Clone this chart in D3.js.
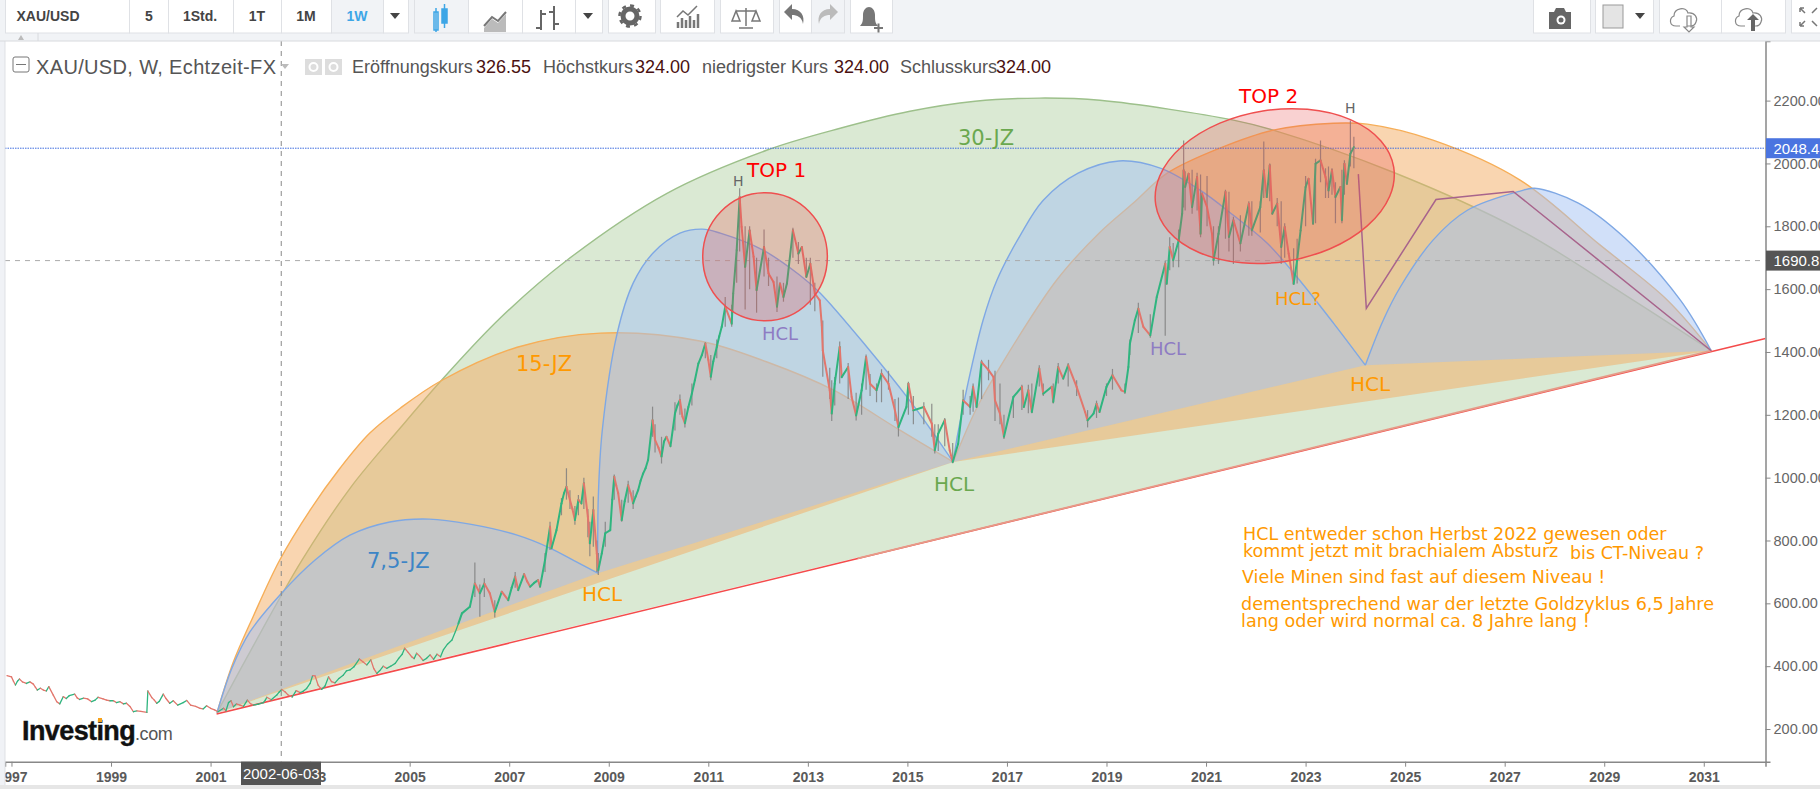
<!DOCTYPE html>
<html>
<head>
<meta charset="utf-8">
<title>XAU/USD</title>
<script src="https://cdn.jsdelivr.net/npm/d3@7"></script>
<style>
  html, body { margin: 0; padding: 0; background: #fff; overflow: hidden; }
  svg { display: block; }
  text { font-family: "Liberation Sans", Arial, sans-serif; }
  .note { font-family: "DejaVu Sans", Verdana, sans-serif; }
  .axis path, .axis line { stroke: #888; }
  .axis path { stroke-width: 1.5; }
  .axis text { fill: #666; font-size: 14.5px; }
  .axis.x text { font-weight: bold; fill: #5a5a5a; font-size: 14px; }
</style>
</head>
<body>
<div id="chart"></div>
<script>
// Values: [year, price]
var yearTicks  = d3.range(1997, 2032, 2);
var priceTicks = [200, 400, 600, 800, 1000, 1200, 1400, 1600, 1800, 2000, 2200];

var lastPrice  = 2048.47;
var crossPrice = 1690.82;
var crossYear  = 2002.42;

var arc30 = [[2001.13,252],[2001.79,445],[2002.84,738],[2003.82,970],[2004.81,1158],[2005.64,1310],[2006.82,1508],[2008.16,1692],
  [2010.17,1905],[2012.17,2042],[2013.65,2112],[2015.05,2166],[2016.36,2198],[2017.65,2208],[2018.87,2201],[2021.55,2138],[2022.35,2106],
  [2024.76,1972],[2027.31,1788],[2029.58,1565],[2031.15,1404]];

var arc15a = [[2001.13,252],[2001.45,410],[2001.85,556],[2002.39,738],[2003.0,897],[2003.6,1030],[2004.2,1142],[2004.81,1221],[2005.65,1310],
  [2007.16,1415],[2008.83,1460],[2010.83,1435],[2012.18,1368],[2013.51,1279],[2014.85,1151],[2015.92,1050]];

var arc15b = [[2015.92,1050],[2016.4,1224],[2016.86,1352],[2018.0,1629],[2018.87,1781],[2019.54,1874],[2020.22,1969],[2021.28,2049],
  [2022.35,2106],[2023.56,2128],[2024.24,2125],[2025.56,2074],[2027.31,1947],[2028.92,1740],[2030.27,1565],[2031.15,1404]];

var arc75a = [[2001.13,252],[2001.43,394],[2001.79,509],[2002.43,633],[2003.1,738],[2003.8,817],[2004.6,859],[2005.39,868],
  [2006.21,852],[2007.16,817],[2007.82,776],[2008.36,731],[2008.78,696]];

var arc75b = [[2008.78,696],[2008.79,938],[2008.87,1151],[2009.17,1460],[2009.49,1619],[2009.89,1715],[2010.43,1778],[2010.88,1791],
  [2011.24,1778],[2012.1,1724],[2012.84,1644],[2013.25,1587],[2014.19,1415],[2015.01,1253],[2015.52,1142],[2015.92,1050]];

var arc75c = [[2015.92,1050],[2016.0,1129],[2016.2,1288],[2016.52,1501],[2016.8,1629],[2017.27,1772],[2017.73,1883],[2018.43,1969],
  [2019.25,2008],[2020.08,1985],[2020.88,1915],[2021.55,1835],[2022.23,1746],[2022.83,1638],[2023.56,1492],[2024.2,1358]];

var arc75d = [[2024.2,1358],[2024.56,1501],[2024.9,1606],[2025.56,1756],[2026.25,1851],[2027.31,1912],[2027.6,1921],[2028.48,1874],
  [2029.42,1762],[2030.53,1565],[2031.15,1404]];

var trendLine  = [[2001.12,248],[2032.24,1443]];
var trendFaded = [[2014,743],[2031.15,1404]];
var forecast   = [[2024.06,1966],[2024.22,1539],[2025.62,1885],[2027.17,1911],[2031.15,1404]];

// weekly closes, sampled [year, close]
var closesMain = [[1996.91,370],[1997.0,366],[1997.08,340],[1997.16,359],[1997.3,345],[1997.44,343],[1997.52,324],[1997.64,324],[1997.75,335],
  [1997.91,287],[1997.97,280],[1998.04,303],[1998.27,311],[1998.37,294],[1998.61,287],[1998.74,301],[1998.98,290],[1999.18,287],
  [1999.31,282],[1999.45,255],[1999.72,253],[1999.74,321],[1999.92,282],[2000.05,311],[2000.18,282],[2000.45,284],[2000.79,266],
  [2000.92,274],[2001.15,255],[2001.26,266],[2001.36,284],[2001.46,271],[2001.59,276],[2001.74,292],[2001.86,276],[2002.06,284],
  [2002.13,301],[2002.33,308],[2002.43,326],[2002.56,308],[2002.8,316],[2002.93,329],[2003.05,370],[2003.1,369],[2003.23,326],
  [2003.37,366],[2003.5,347],[2003.67,372],[2003.8,388],[2003.99,423],[2004.14,404],[2004.22,420],[2004.34,377],[2004.54,393],
  [2004.71,409],[2004.9,457],[2005.04,430],[2005.14,441],[2005.34,425],[2005.48,422],[2005.68,453],[2005.85,483],[2005.98,536],
  [2006.05,568],[2006.21,589],[2006.31,663],[2006.41,632],[2006.5,663],[2006.61,632],[2006.71,573],[2006.85,637],[2006.98,610],
  [2007.12,685],[2007.18,642],[2007.3,693],[2007.42,653],[2007.58,674],[2007.62,653],[2007.72,738],[2007.82,844],[2007.85,775],
  [2007.95,833],[2008.05,918],[2008.15,971],[2008.22,929],[2008.32,865],[2008.39,929],[2008.45,918],[2008.5,982],[2008.58,876],
  [2008.62,791],[2008.69,897],[2008.76,759],[2008.79,706],[2008.86,759],[2008.93,823],[2009.03,833],[2009.11,1003],[2009.19,950],
  [2009.26,865],[2009.39,976],[2009.49,918],[2009.59,960],[2009.69,1013],[2009.79,1056],[2009.88,1183],[2009.93,1120],[2010.06,1067],
  [2010.16,1130],[2010.24,1100],[2010.33,1204],[2010.43,1247],[2010.53,1173],[2010.67,1268],[2010.8,1363],[2010.94,1427],[2011.05,1321],
  [2011.17,1416],[2011.27,1480],[2011.34,1544],[2011.47,1490],[2011.5,1586],[2011.57,1724],[2011.63,1893],[2011.67,1798],[2011.74,1671],
  [2011.83,1787],[2011.91,1703],[2011.97,1597],[2012.12,1734],[2012.21,1650],[2012.31,1623],[2012.38,1544],[2012.44,1618],[2012.51,1575],
  [2012.58,1618],[2012.7,1787],[2012.81,1713],[2012.88,1734],[2012.97,1639],[2013.05,1681],[2013.14,1586],[2013.24,1564],[2013.28,1485],
  [2013.3,1405],[2013.44,1278],[2013.48,1204],[2013.54,1299],[2013.64,1416],[2013.68,1320],[2013.81,1352],[2013.88,1257],[2013.97,1198],
  [2014.08,1278],[2014.17,1384],[2014.25,1299],[2014.38,1278],[2014.48,1331],[2014.62,1299],[2014.75,1214],[2014.82,1161],[2014.98,1225],
  [2015.02,1299],[2015.12,1214],[2015.33,1225],[2015.49,1172],[2015.55,1087],[2015.62,1140],[2015.75,1183],[2015.85,1087],[2015.91,1050],
  [2016.02,1108],[2016.12,1246],[2016.26,1225],[2016.32,1289],[2016.39,1225],[2016.49,1368],[2016.63,1342],[2016.73,1320],[2016.76,1246],
  [2016.86,1204],[2016.94,1130],[2017.13,1257],[2017.3,1289],[2017.34,1225],[2017.43,1278],[2017.5,1209],[2017.65,1347],[2017.73,1267],
  [2017.9,1289],[2017.93,1241],[2018.03,1352],[2018.13,1315],[2018.23,1358],[2018.4,1289],[2018.57,1209],[2018.62,1182],[2018.74,1204],
  [2018.8,1235],[2018.86,1209],[2019.0,1289],[2019.12,1326],[2019.3,1278],[2019.37,1273],[2019.44,1352],[2019.47,1426],[2019.57,1501],
  [2019.64,1538],[2019.74,1480],[2019.88,1453],[2020.01,1575],[2020.18,1681],[2020.21,1617],[2020.27,1734],[2020.34,1692],[2020.45,1755],
  [2020.52,1840],[2020.55,1978],[2020.58,1925],[2020.65,1967],[2020.72,1861],[2020.82,1957],[2020.89,1776],[2020.92,1904],[2021.02,1861],
  [2021.12,1776],[2021.15,1692],[2021.25,1776],[2021.39,1909],[2021.46,1766],[2021.55,1819],[2021.69,1745],[2021.86,1872],[2021.92,1787],
  [2022.09,1861],[2022.16,1978],[2022.22,1893],[2022.28,1994],[2022.33,1840],[2022.43,1872],[2022.51,1734],[2022.58,1798],[2022.66,1713],
  [2022.76,1617],[2022.83,1692],[2022.9,1787],[2023.0,1925],[2023.06,1951],[2023.15,1808],[2023.2,1999],[2023.3,2010],[2023.4,1957],
  [2023.46,1914],[2023.53,1978],[2023.6,1893],[2023.7,1925],[2023.73,1819],[2023.78,1999],[2023.83,1935],[2023.9,2031],[2023.97,2052]];

// smaller swings between the main ones
var closesFine = [[1997.04,352],[1997.12,352],[1997.22,350],[1997.37,350],[1997.48,333],[1997.58,330],[1997.7,321],[1997.84,308],[1998.1,297],
  [1998.16,306],[1998.32,299],[1998.45,298],[1998.53,296],[1998.68,292],[1998.84,296],[1998.91,292],[1999.05,290],[1999.11,284],[1999.25,280],
  [1999.38,272],[1999.52,258],[1999.6,256],[1999.82,300],[1999.87,292],[1999.97,288],[2000.1,298],[2000.25,290],[2000.34,276],[2000.52,291],
  [2000.6,276],[2000.7,272],[2000.85,264],[2001.0,266],[2001.08,261],[2001.31,258],[2001.41,290],[2001.52,280],[2001.66,272],[2001.8,281],
  [2001.96,279],[2002.1,292],[2002.22,293],[2002.38,318],[2002.5,318],[2002.64,302],[2002.72,322],[2002.86,320],[2003.0,345],[2003.16,340],
  [2003.3,337],[2003.43,351],[2003.58,361],[2003.73,385],[2003.88,398],[2004.06,414],[2004.28,392],[2004.4,386],[2004.47,400],[2004.62,400],
  [2004.78,425],[2004.85,438],[2004.97,444],[2005.09,424],[2005.2,432],[2005.27,418],[2005.41,436],[2005.55,438],[2005.62,430],[2005.76,470],
  [2005.92,510],[2007.05,650],[2007.36,670],[2007.5,665],[2008.1,950],[2008.27,900],[2009.07,930],[2009.15,975],[2009.32,925],[2009.44,950],
  [2009.54,940],[2009.64,990],[2009.74,1030],[2010.0,1095],[2010.11,1115],[2010.38,1230],[2010.48,1195],[2010.6,1225],[2010.73,1310],
  [2010.87,1390],[2011.0,1375],[2011.1,1370],[2011.22,1450]];

// long wicks that stick out of the closes: [year, high, low]
var wicksMain = [[2006.31,730,620],[2006.41,660,557],[2006.5,680,620],[2006.71,610,555],[2007.12,700,650],[2007.72,760,700],[2007.82,860,770],
  [2008.05,935,880],[2008.15,1030,930],[2008.22,960,900],[2008.32,910,850],[2008.39,945,880],[2008.5,1000,900],[2008.58,900,810],
  [2008.62,860,750],[2008.69,940,780],[2008.76,800,700],[2008.79,760,690],[2008.93,860,780],[2009.11,1010,930],[2009.26,930,860],
  [2009.39,990,920],[2009.49,960,900],[2009.88,1226,1130],[2009.93,1170,1080],[2010.06,1130,1045],[2010.33,1240,1150],[2010.43,1265,1200],
  [2010.53,1220,1160],[2010.67,1300,1230],[2010.94,1430,1380],[2011.05,1390,1310],[2011.17,1440,1380],[2011.34,1575,1480],[2011.47,1550,1480],
  [2011.57,1740,1620],[2011.63,1921,1720],[2011.74,1800,1535],[2011.83,1800,1600],[2011.97,1700,1525],[2012.12,1790,1640],[2012.21,1700,1610],
  [2012.38,1640,1527],[2012.51,1620,1560],[2012.7,1795,1700],[2012.81,1750,1680],[2012.97,1700,1640],[2013.05,1700,1550],[2013.14,1620,1530],
  [2013.3,1500,1321],[2013.44,1350,1250],[2013.48,1310,1180],[2013.64,1433,1300],[2013.97,1270,1182],[2014.17,1392,1280],[2014.48,1345,1240],
  [2014.82,1255,1131],[2015.02,1305,1200],[2015.49,1235,1130],[2015.55,1170,1077],[2015.75,1190,1100],[2015.91,1110,1046],[2016.49,1375,1250],
  [2016.76,1340,1180],[2016.94,1200,1123],[2017.5,1300,1205],[2017.93,1300,1236],[2018.62,1215,1160],[2019.47,1440,1390],[2019.64,1557,1460],
  [2019.88,1520,1445],[2020.18,1690,1452],[2020.27,1765,1660],[2020.55,2073,1860],[2020.58,1975,1850],[2020.89,1965,1765],[2021.15,1800,1675],
  [2021.39,1916,1760],[2021.55,1830,1680],[2021.92,1880,1770],[2022.16,2070,1890],[2022.28,2000,1880],[2022.51,1880,1680],[2022.76,1730,1615],
  [2022.83,1760,1618],[2023.3,2073,1940],[2023.4,1985,1890],[2023.73,1980,1810],[2023.9,2137,1990],[2023.97,2085,1985]];

var wicksFine = [[2013.54,1320,1230],[2013.81,1365,1250],[2014.08,1300,1200],[2014.25,1330,1260],[2014.38,1300,1240],[2014.62,1340,1280],
  [2014.75,1250,1180],[2015.12,1260,1170],[2015.33,1240,1170],[2015.62,1170,1085],[2016.12,1280,1200],[2016.26,1260,1200],[2016.32,1300,1210],
  [2016.63,1375,1310],[2016.86,1300,1170],[2017.13,1260,1190],[2017.3,1296,1215],[2017.43,1296,1205],[2017.65,1358,1290],[2017.73,1300,1260],
  [2018.03,1365,1300],[2018.23,1365,1290],[2018.4,1310,1260],[2018.8,1245,1190],[2019.0,1300,1260],[2019.12,1346,1280],[2019.37,1300,1266],
  [2020.34,1747,1670],[2020.45,1790,1670],[2020.72,1980,1840],[2020.82,1970,1850],[2021.02,1960,1800],[2021.25,1800,1680],[2021.46,1910,1720],
  [2021.69,1835,1720],[2021.86,1880,1770],[2022.09,1880,1780],[2022.43,1890,1800],[2022.58,1810,1700],[2023.0,1960,1800],[2023.2,2015,1810],
  [2023.46,1990,1890],[2023.53,1985,1900],[2023.6,1940,1810],[2023.78,2010,1900]];

var top1Ellipse = {year: 2012.14, price: 1703, rYears: 1.252, rPrice: 204};
var top2Ellipse = {year: 2022.38, price: 1928, rYears: 2.42, rPrice: 242};

var legendItems = [
  ['Eröffnungskurs', '326.55', 352, 476],
  ['Höchstkurs', '324.00', 543, 635],
  ['niedrigster Kurs', '324.00', 702, 834],
  ['Schlusskurs', '324.00', 900, 996]
];

var closes = closesMain.concat(closesFine).sort(function(a, b) { return a[0] - b[0]; });
var wicks  = wicksMain.concat(wicksFine);

var width = 1820, height = 789;
var plot = {left: 5, right: 1765.5, top: 41, bottom: 761.7};

var svg = d3.select('#chart').append('svg')
  .attr('width', width)
  .attr('height', height);

var x = d3.scaleLinear().domain([1996.87, 2032.24]).range([plot.left, plot.right]);
var y = d3.scaleLinear().domain([96, 2389.7]).range([plot.bottom, plot.top]);

var defs = svg.append('defs');
defs.append('clipPath').attr('id', 'plot-clip').append('rect')
  .attr('x', plot.left).attr('y', plot.top)
  .attr('width', plot.right - plot.left).attr('height', plot.bottom - plot.top);

// Background and axes
svg.append('rect').attr('width', width).attr('height', height).attr('fill', '#fff');

var line = d3.line().x(function(d) { return x(d[0]); }).y(function(d) { return y(d[1]); });
var arcLine = d3.line().x(function(d) { return x(d[0]); }).y(function(d) { return y(d[1]); }).curve(d3.curveCatmullRom.alpha(0.5));

var container = svg.append('g').attr('clip-path', 'url(#plot-clip)');

var green  = {fill: 'rgb(106,168,79)', a: 0.25, stroke: '#9dc08b'};
var orange = {fill: 'rgb(243,171,97)', a: 0.5, stroke: '#f6ae58'};
var blue   = {fill: 'rgb(164,193,243)', a: 0.5, stroke: '#7fa8e4'};

var drawArc = function(points, style) {
  container.append('path')
    .attr('d', arcLine(points) + 'Z')
    .attr('fill', style.fill)
    .attr('fill-opacity', style.a)
    .attr('stroke', 'none');
  container.append('path')
    .attr('d', arcLine(points))
    .attr('fill', 'none')
    .attr('stroke', style.stroke)
    .attr('stroke-width', 1.4);
};

drawArc(arc30, green);
drawArc(arc15a, orange);
drawArc(arc15b, orange);
drawArc(arc75a, blue);
drawArc(arc75b, blue);
drawArc(arc75c, blue);
drawArc(arc75d, blue);

container.append('path').attr('d', line(trendLine)).attr('fill', 'none').attr('stroke', '#f44b4b').attr('stroke-width', 1.6);
container.append('path').attr('d', line(trendFaded)).attr('fill', 'none').attr('stroke', '#e59b88').attr('stroke-width', 1.8);

// Guide lines
container.append('line')
  .attr('x1', plot.left).attr('x2', plot.right)
  .attr('y1', y(lastPrice)).attr('y2', y(lastPrice))
  .attr('stroke', '#3f6ee0').attr('stroke-width', 1).attr('stroke-dasharray', '1.5,1');
container.append('line')
  .attr('x1', plot.left).attr('x2', plot.right)
  .attr('y1', y(crossPrice)).attr('y2', y(crossPrice))
  .attr('stroke', '#aaa').attr('stroke-width', 1).attr('stroke-dasharray', '5,5');
container.append('line')
  .attr('x1', x(crossYear)).attr('x2', x(crossYear))
  .attr('y1', plot.top).attr('y2', plot.bottom)
  .attr('stroke', '#888').attr('stroke-width', 1).attr('stroke-dasharray', '5,5');

// Price
container.selectAll('.wick')
  .data(wicks)
.enter().append('line')
  .attr('class', 'wick')
  .attr('x1', function(d) { return x(d[0]); })
  .attr('x2', function(d) { return x(d[0]); })
  .attr('y1', function(d) { return y(d[1]); })
  .attr('y2', function(d) { return y(d[2]); })
  .attr('stroke', '#7f7f7f')
  .attr('stroke-opacity', 0.85)
  .attr('stroke-width', 1.2);

container.selectAll('.candle')
  .data(closes.slice(1))
.enter().append('line')
  .attr('class', 'candle')
  .attr('x1', function(d, i) { return x(closes[i][0]); })
  .attr('y1', function(d, i) { return y(closes[i][1]); })
  .attr('x2', function(d) { return x(d[0]); })
  .attr('y2', function(d) { return y(d[1]); })
  .attr('stroke', function(d, i) { return d[1] >= closes[i][1] ? '#2fb57f' : '#e2766c'; })
  .attr('stroke-width', function(d) { return d[0] < 2006 ? 1.3 : 2; })
  .attr('stroke-linecap', 'round');

container.append('path').attr('d', line(forecast)).attr('fill', 'none').attr('stroke', '#a8648c').attr('stroke-width', 1.5);

// Red circles around the tops
var drawEllipse = function(e, angle) {
  var cx = x(e.year), cy = y(e.price);
  container.append('ellipse')
    .attr('cx', cx).attr('cy', cy)
    .attr('rx', x(e.year + e.rYears) - cx)
    .attr('ry', cy - y(e.price + e.rPrice))
    .attr('transform', 'rotate(' + angle + ' ' + cx + ' ' + cy + ')')
    .attr('fill', 'rgb(230,70,70)').attr('fill-opacity', 0.25)
    .attr('stroke', '#ef4f4f').attr('stroke-width', 1.5);
};
drawEllipse(top1Ellipse, 0);
drawEllipse(top2Ellipse, -9);

svg.append('g')
  .attr('class', 'axis y')
  .attr('transform', 'translate(' + plot.right + ',0)')
  .call(d3.axisRight(y).tickValues(priceTicks).tickSize(5).tickPadding(3).tickFormat(d3.format('.2f')));

svg.append('g')
  .attr('class', 'axis x')
  .attr('transform', 'translate(0,' + plot.bottom + ')')
  .call(d3.axisBottom(x).tickValues(yearTicks).tickSize(5).tickPadding(5).tickFormat(d3.format('d')));

// Annotations
var note = function(str, px, py, size, color) {
  svg.append('text').attr('class', 'note')
    .attr('x', px).attr('y', py)
    .attr('font-size', size).attr('fill', color)
    .text(str);
};
var OR = '#ff9900', PU = '#8e7cc3', GR = '#6aa84f', BL = '#3d85c6', RE = '#ff0000';
note('7,5-JZ', 367, 568, 21, BL);
note('15-JZ', 516, 371, 21, OR);
note('30-JZ', 958, 145, 21, GR);
note('TOP 1', 747, 177, 20, RE);
note('TOP 2', 1239, 103, 20, RE);
note('H', 733, 186, 14, '#666');
note('H', 1345, 113, 14, '#666');
note('HCL', 762, 340, 18, PU);
note('HCL', 1150, 355, 18, PU);
note('HCL', 582, 601, 20, OR);
note('HCL', 934, 491, 20, GR);
note('HCL?', 1275, 305, 18, OR);
note('HCL', 1350, 391, 20, OR);
note('HCL entweder schon Herbst 2022 gewesen oder', 1243, 540, 17.5, OR);
note('kommt jetzt mit brachialem Absturz', 1243, 557, 17.5, OR);
note('bis CT-Niveau ?', 1570, 558.5, 17.5, OR);
note('Viele Minen sind fast auf diesem Niveau !', 1242, 583, 17.5, OR);
note('dementsprechend war der letzte Goldzyklus 6,5 Jahre', 1241, 610, 17.6, OR);
note('lang oder wird normal ca. 8 Jahre lang !', 1241, 627, 17.6, OR);

// Logo
svg.append('text').attr('x', 22).attr('y', 740).attr('font-size', 27).attr('font-weight', 'bold')
  .attr('fill', '#111').attr('stroke', '#111').attr('stroke-width', 0.4).attr('letter-spacing', '-0.6').text('Investing');
svg.append('text').attr('x', 135).attr('y', 740).attr('font-size', 18).attr('fill', '#555').attr('letter-spacing', '-0.4').text('.com');
svg.append('rect').attr('x', 98).attr('y', 718).attr('width', 4).attr('height', 4).attr('fill', '#f7a11a');

// Legend
svg.append('rect').attr('x', 13).attr('y', 57).attr('width', 16).attr('height', 15).attr('rx', 2)
  .attr('fill', '#fff').attr('stroke', '#777');
svg.append('line').attr('x1', 16).attr('x2', 26).attr('y1', 64.5).attr('y2', 64.5).attr('stroke', '#777');
svg.append('text').attr('x', 36).attr('y', 74).attr('font-size', 20).attr('fill', '#555')
  .attr('letter-spacing', '0.35').text('XAU/USD, W, Echtzeit-FX');
svg.append('path').attr('d', 'M281,64h8l-4,5z').attr('fill', '#bbb');
[305, 325].forEach(function(px) {
  svg.append('rect').attr('x', px).attr('y', 59).attr('width', 17).attr('height', 16).attr('fill', '#ddd');
  svg.append('circle').attr('cx', px + 8.5).attr('cy', 67).attr('r', 4).attr('fill', 'none').attr('stroke', '#fff').attr('stroke-width', 2);
});
legendItems.forEach(function(d) {
  svg.append('text').attr('x', d[2]).attr('y', 73).attr('font-size', 18).attr('fill', '#555').text(d[0]);
  svg.append('text').attr('x', d[3]).attr('y', 73).attr('font-size', 18).attr('fill', '#4a1010').text(d[1]);
});

// Price boxes on the right axis
var priceBox = function(value, color) {
  var cy = y(value);
  svg.append('rect').attr('x', plot.right + 0.5).attr('y', cy - 10).attr('width', width - plot.right).attr('height', 20).attr('fill', color);
  svg.append('text').attr('x', plot.right + 8).attr('y', cy + 5.5).attr('font-size', 15).attr('fill', '#fff').text(value.toFixed(2));
};
priceBox(lastPrice, '#4a74e0');
priceBox(crossPrice, '#555');

// Crosshair date box
svg.append('rect').attr('x', 241).attr('y', plot.bottom).attr('width', 80).attr('height', 24).attr('fill', '#555');
svg.append('text').attr('x', x(crossYear)).attr('y', 779).attr('text-anchor', 'middle').attr('font-size', 15).attr('fill', '#fff').text('2002-06-03');

// Frame around the plot
svg.append('rect').attr('x', 0).attr('y', 41).attr('width', 5).attr('height', height).attr('fill', '#f0f2f6');
svg.append('line').attr('x1', 5).attr('x2', 5).attr('y1', 41).attr('y2', 785).attr('stroke', '#dfe1e5');
svg.append('rect').attr('x', 0).attr('y', 785).attr('width', width).attr('height', 4).attr('fill', '#e6e6e6');

// Toolbar
var toolbar = svg.append('g');
toolbar.append('rect').attr('width', width).attr('height', 41).attr('fill', '#f1f3f6');
toolbar.append('line').attr('x1', 0).attr('x2', width).attr('y1', 41).attr('y2', 41).attr('stroke', '#d8dade');

var button = function(x0, x1, active) {
  toolbar.append('rect').attr('x', x0 + 0.5).attr('y', -1).attr('width', x1 - x0).attr('height', 34)
    .attr('fill', active ? '#f1f3f6' : '#fff').attr('stroke', '#dfe1e5');
};
var label = function(str, cx, color) {
  toolbar.append('text').attr('x', cx).attr('y', 21).attr('text-anchor', 'middle')
    .attr('font-size', 14).attr('font-weight', 'bold').attr('fill', color || '#444').text(str);
};
var caret = function(cx) {
  toolbar.append('path').attr('d', 'M' + (cx - 5) + ',13h10l-5,6z').attr('fill', '#444');
};
var icon = function(d, opts) {
  opts = opts || {};
  toolbar.append('path').attr('d', d)
    .attr('fill', opts.fill || 'none')
    .attr('stroke', opts.stroke || 'none')
    .attr('stroke-width', opts.sw || 1.5);
};

[[5,129],[129,168],[168,233],[233,281],[281,331],[383,408],[468,522],[522,575],[575,602],[608,655],[660,714],[720,773],[779,811],[850,892],[1533,1590],[1595,1653],[1659,1721],[1721,1785],[1791,1825]]
  .forEach(function(d) { button(d[0], d[1], false); });
[[331,383],[414,468],[811,844]].forEach(function(d) { button(d[0], d[1], true); });

label('XAU/USD', 48);
label('5', 149);
label('1Std.', 200);
label('1T', 257);
label('1M', 306);
label('1W', 357, '#3ea6e6');
caret(395);
caret(588);
caret(1640);

// candles, line, bars
icon('M434,12h4v18h-4zM436,8v24', {stroke: '#3ea6e6'});
icon('M442,9h5v14h-5zM444.5,4v24', {fill: '#3ea6e6', stroke: '#3ea6e6'});
icon('M484,28l8,-9l6,4l8,-9v18h-22z', {fill: '#bbb'});
icon('M484,26l8,-9l6,4l8,-9', {stroke: '#777', sw: 2});
icon('M541,10v20M536,28h5M541,14h5M554,6v24M549,12h5M554,24h5', {stroke: '#666', sw: 2});
// gear
toolbar.append('circle').attr('cx', 630).attr('cy', 16).attr('r', 7).attr('fill', 'none').attr('stroke', '#666').attr('stroke-width', 5);
toolbar.append('circle').attr('cx', 630).attr('cy', 16).attr('r', 10.5).attr('fill', 'none').attr('stroke', '#666').attr('stroke-width', 2.5).attr('stroke-dasharray', '4,4.2');
// indicators
icon('M678,28v-6M682,28v-10M686,28v-8M690,28v-12M694,28v-8M698,28v-14', {stroke: '#777', sw: 2.5});
icon('M677,17l6,-6l5,4l9,-9', {stroke: '#777', sw: 1.5});
// scales
icon('M746,8v18M739,28h14M736,11h20M736,11l-4,10h8zM756,11l-4,10h8z', {stroke: '#777', sw: 1.5});
// undo, redo, alert
icon('M803,24c-1,-7,-6,-9,-11,-9v5l-8,-8l8,-8v5c9,0,13,7,11,15z', {fill: '#777'});
icon('M819,24c1,-7,6,-9,11,-9v5l8,-8l-8,-8v5c-9,0,-13,7,-11,15z', {fill: '#bbb'});
icon('M860,26c3,-3,3,-6,3,-11c0,-5,3,-8,6,-8c3,0,6,3,6,8c0,5,0,8,3,11z', {fill: '#777'});
icon('M874,28h9M878.5,23.5v9', {stroke: '#777', sw: 2});
// camera, color, clouds, fullscreen
icon('M1549,12h5l2,-4h8l2,4h5v17h-22z', {fill: '#666'});
toolbar.append('circle').attr('cx', 1561).attr('cy', 20).attr('r', 4.5).attr('fill', '#fff');
toolbar.append('circle').attr('cx', 1561).attr('cy', 20).attr('r', 2.5).attr('fill', '#666');
toolbar.append('rect').attr('x', 1603).attr('y', 5).attr('width', 20).attr('height', 23).attr('fill', '#e4e4e4').attr('stroke', '#999');
icon('M1680,26h-4c-7,0,-7,-8,-2,-10c0,-8,12,-10,14,-3c7,-1,10,5,8,9c-1,3,-3,4,-5,4h-4', {stroke: '#888', sw: 1.2});
icon('M1687,16v11h-3l5,5l5,-5h-3v-11z', {stroke: '#888', sw: 1.2});
icon('M1745,26h-4c-7,0,-7,-8,-2,-10c0,-8,12,-10,14,-3c7,-1,10,5,8,9c-1,3,-3,4,-5,4h-4', {stroke: '#888', sw: 1.2});
icon('M1751,31v-11h-4l6,-6l6,6h-4v11z', {fill: '#666'});
icon('M1800,8l5,5M1800,8h4M1800,8v4M1817,8l-5,5M1800,26l5,-5M1800,26h4M1800,26v-4M1817,26l-5,-5', {stroke: '#777'});

// strip under the toolbar
toolbar.append('line').attr('x1', 38).attr('x2', 38).attr('y1', 33).attr('y2', 41).attr('stroke', '#d8dade');
toolbar.append('path').attr('d', 'M18,40l3,-5l3,5z').attr('fill', '#bbb');
</script>
</body>
</html>
